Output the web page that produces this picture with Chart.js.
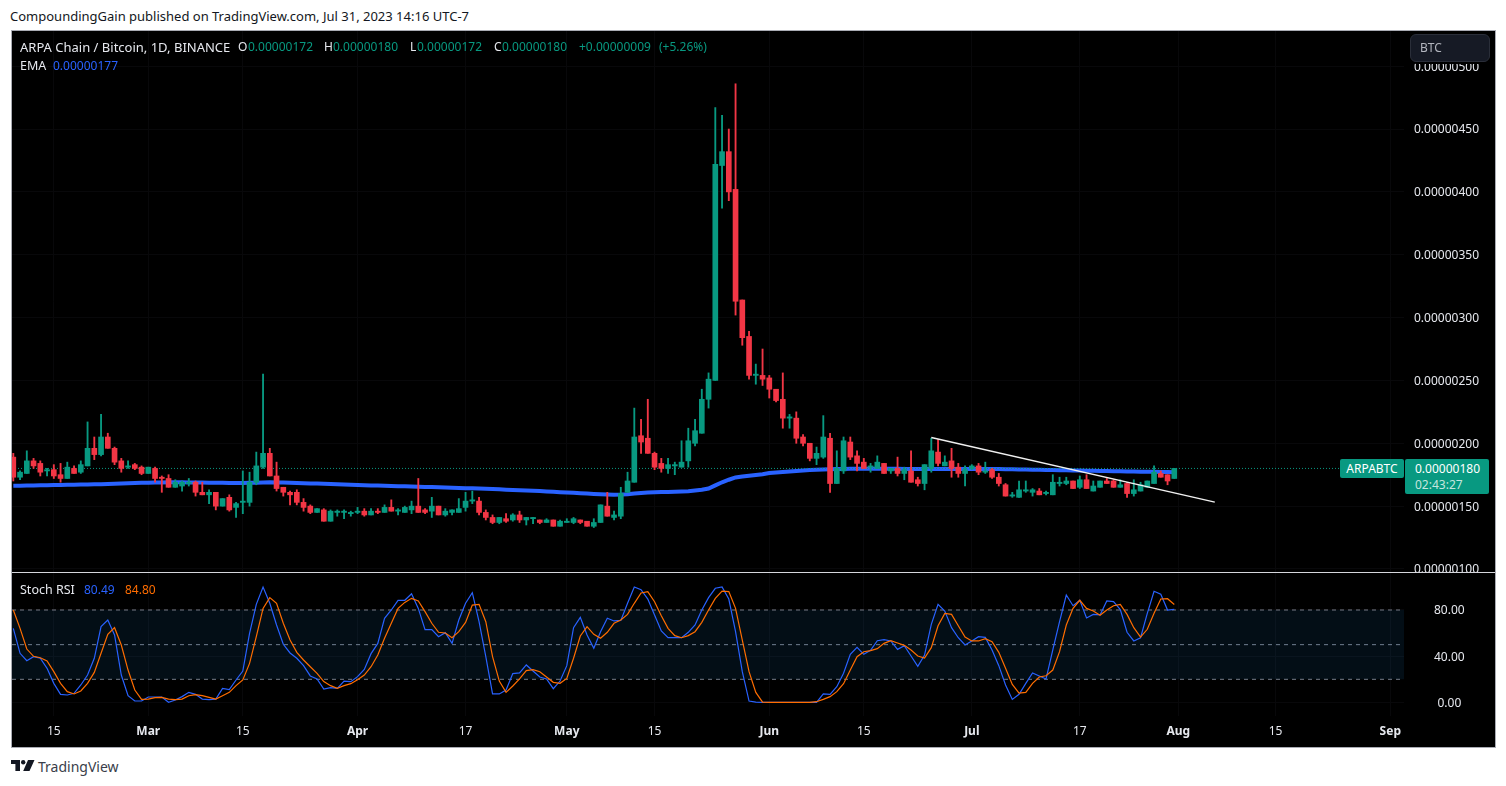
<!DOCTYPE html>
<html><head><meta charset="utf-8">
<script src="https://cdn.jsdelivr.net/npm/chart.js@4/dist/chart.umd.min.js"></script>
<style>
html,body{margin:0;padding:0;background:#fff;width:1506px;height:786px;overflow:hidden;font-family:"Noto Sans",sans-serif;}
.a{position:absolute;white-space:nowrap;line-height:16px;font-size:12px;}
.t{font-size:13px;}
#frame{position:absolute;left:11px;top:30px;width:1483px;height:716px;background:#000;border:1px solid #a9abb3;box-sizing:content-box;}
canvas{position:absolute;display:block;}
#div{position:absolute;left:12px;top:572px;width:1483px;height:1px;background:#d5d6dc;}
.w{color:#e6e8ee}.g{color:#089981}
</style></head><body>
<div id="frame"></div>
<canvas id="priceCanvas" width="1483" height="541" style="left:12px;top:31px"></canvas>
<div id="div"></div>
<canvas id="stochCanvas" width="1483" height="173" style="left:12px;top:573px"></canvas>

<div class="a t" style="left:10px;top:8px;color:#131722">CompoundingGain published on TradingView.com, Jul 31, 2023 14:16 UTC-7</div>

<div class="a w t" style="left:20px;top:39px">ARPA Chain / Bitcoin, 1D, BINANCE</div>
<div class="a w" style="left:238px;top:39px">O</div><div class="a g" style="left:248px;top:39px">0.00000172</div>
<div class="a w" style="left:324px;top:39px">H</div><div class="a g" style="left:333px;top:39px">0.00000180</div>
<div class="a w" style="left:410px;top:39px">L</div><div class="a g" style="left:417px;top:39px">0.00000172</div>
<div class="a w" style="left:494px;top:39px">C</div><div class="a g" style="left:502px;top:39px">0.00000180</div>
<div class="a g" style="left:579px;top:39px">+0.00000009</div>
<div class="a g" style="left:659px;top:39px">(+5.26%)</div>
<div class="a w" style="left:20px;top:58px;font-size:12.5px">EMA</div><div class="a" style="left:53px;top:58px;color:#2962ff">0.00000177</div>

<div class="a" style="left:1410px;top:34px;width:80px;height:28px;box-sizing:border-box;background:#161a25;border:1px solid #2a2e39;border-radius:6px;color:#b2b5be;padding-left:9px;line-height:26px;box-shadow:0 2px 0 #000">BTC</div>

<div class="a" style="left:1340px;top:459px;width:64px;height:19px;background:#089981;border-radius:2px;color:#fff;text-align:center;line-height:19px">ARPABTC</div>
<div class="a" style="left:1405px;top:459px;width:84px;height:35px;background:#089981;border-radius:2px;"></div>
<div class="a" style="left:1415px;top:461px;color:#fff">0.00000180</div>
<div class="a" style="left:1415px;top:477px;color:#c5e6df">02:43:27</div>

<div class="a w" style="left:20px;top:582px;font-size:12.5px">Stoch RSI</div>
<div class="a" style="left:84px;top:582px;color:#2962ff">80.49</div>
<div class="a" style="left:125px;top:582px;color:#ff6d00">84.80</div>

<svg class="a" style="left:11px;top:760px" width="24" height="12" viewBox="0 0 24 12">
<path d="M0 0H9V11H4.4V4H0Z M17 0H23.5L18.5 11H12.2Z" fill="#131722"/><circle cx="12.2" cy="2.2" r="2.2" fill="#131722"/></svg>
<div class="a" style="left:38px;top:758px;font-size:14px;line-height:18px;color:#3a3e4a">TradingView</div>

<script>
const opens=[189,173,176,186,184,178,179,175,172,180,
177,182,196,191,205,196,186,181,183,181,
176,180,173,172,165,166,168,169,161,159,
161,150,157,149,153,153,169,181,192,174,
165,161,161,153,150,145,147,138,145,145,
144,145,146,143,146,145,149,146,145,147,
150,147,146,150,143,145,145,149,154,154,
145,141,137,140,139,143,139,140,139,137,
139,134,137,137,139,138,134,137,150,141,
142,161,169,206,204,192,184,180,182,181,
186,200,208,235,250,421,432,402,314,285,
254,254,252,243,235,220,220,205,200,188,
189,204,168,178,201,190,185,181,180,184,
178,180,176,178,171,168,180,193,182,186,
181,176,180,182,177,179,173,167,158,157,
162,161,162,160,159,168,168,170,165,171,
162,165,170,170,165,168,160,162,165,168,
176,175,172];
const highs=[192,178,194,188,186,180,183,184,185,182,
186,217,205,223,208,197,188,186,184,182,
181,181,174,175,171,170,172,170,169,163,
161,156,159,153,178,177,193,255,196,185,
165,162,163,156,151,148,148,147,147,147,
146,149,148,148,148,151,155,148,150,154,
172,148,157,150,148,147,156,161,162,157,
147,143,141,144,144,146,141,141,139,140,
139,139,140,141,139,138,140,151,161,146,
165,177,228,219,235,193,188,188,185,202,
212,219,243,256,467,461,450,486,314,289,
263,275,254,243,256,223,225,207,200,197,
222,208,194,205,205,194,188,184,190,184,
180,189,181,194,173,183,204,203,190,196,
184,182,183,184,185,180,176,168,161,170,
170,164,164,162,175,173,173,170,174,175,
170,170,172,171,171,169,171,169,170,182,
178,175,180];
const lows=[170,171,176,180,174,174,172,169,172,176,
176,182,187,190,196,183,177,180,179,175,
176,169,161,165,165,162,166,158,159,152,
147,150,146,141,144,150,167,180,174,162,
158,151,151,146,144,145,138,138,142,140,
142,144,142,143,144,145,146,143,145,144,
145,144,141,143,142,143,145,146,152,143,
139,136,136,137,138,137,135,136,136,137,
134,134,137,136,136,134,133,137,142,139,
140,161,169,192,192,179,177,176,175,181,
181,198,208,228,250,387,393,302,278,251,
247,246,236,233,212,212,200,198,186,183,
188,161,168,176,187,178,180,177,180,176,
176,174,171,169,166,163,177,182,182,173,
173,166,179,175,176,172,166,158,157,157,
161,158,159,159,159,166,167,164,164,164,
162,165,168,165,165,157,158,162,165,168,
173,167,172];
const closes=[173,177,186,182,177,179,174,172,181,176,
183,196,191,205,196,185,180,182,180,176,
181,172,172,165,169,169,169,161,159,161,
150,156,147,152,154,169,182,192,174,164,
161,159,153,149,145,148,138,146,146,146,
145,146,143,146,145,149,146,147,149,150,
145,145,150,143,146,147,148,154,155,145,
141,137,141,138,143,139,141,141,137,139,
134,138,138,140,137,134,137,151,142,143,
160,170,205,201,192,181,180,183,183,185,
202,210,235,251,422,432,400,313,284,254,
255,251,243,234,220,221,204,200,188,192,
205,168,180,202,189,184,180,182,185,176,
180,176,179,169,168,183,194,184,185,180,
176,179,182,177,178,173,168,158,159,163,
163,163,159,161,169,169,170,164,171,164,
166,170,168,165,167,160,163,167,170,177,
173,170,180];
const ema=[166.2,166.3,166.4,166.5,166.6,166.7,166.8,166.9,167.0,167.1,167.2,167.3,167.4,
167.5,167.7,167.9,168.1,168.3,168.5,168.6,168.7,168.8,168.9,169.0,
169.0,169.0,168.9,168.9,168.8,168.7,168.7,168.6,168.5,168.5,
168.5,168.6,168.7,168.8,
169.0,168.9,168.8,168.6,168.4,168.3,168.1,168.0,167.8,167.6,167.4,167.2,167.0,
166.9,166.7,166.5,166.4,166.2,166.1,165.9,165.8,165.6,165.5,165.3,165.2,165.0,164.9,164.7,164.5,164.3,164.2,
164.0,163.8,163.6,163.4,163.1,162.9,162.7,162.4,162.2,162.0,161.7,161.4,161.1,160.9,160.6,160.3,160.0,159.7,159.4,159.2,
159.1,159.2,159.5,160.0,160.5,160.8,161.0,161.2,161.3,161.4,161.6,
161.9,162.4,163.0,164.0,166.5,169.0,171.0,172.8,173.6,174.2,174.8,175.3,176.3,176.8,177.2,177.6,178.0,178.4,178.7,179.0,179.2,
179.4,179.5,179.6,179.7,179.7,179.7,179.7,179.7,179.7,179.7,179.7,179.6,179.6,179.5,179.5,179.6,179.6,179.6,179.6,179.6,179.6,179.6,179.6,179.6,179.6,
179.5,179.4,179.3,179.2,179.1,179.0,178.9,178.8,178.7,178.6,178.5,178.4,178.3,178.2,178.1,178.0,177.9,177.8,177.7,177.6,177.5,177.4,177.3,177.3,177.2,177.1,177.0];
const stochK=[64.1,42.5,36.1,39.6,38.2,29.5,16.5,7.0,6.4,7.9,15.1,23.7,38.2,65.6,71.3,58.4,23.7,5.8,1.2,1.2,
4.7,4.7,4.7,0.1,2.1,5.0,8.7,7.0,2.9,2.4,2.9,12.2,11.0,19.4,27.2,59.8,84.9,99.9,85.8,67.0,
50.3,42.8,38.2,31.8,22.9,20.3,11.6,12.8,12.2,18.5,18.0,22.3,28.6,42.2,51.1,72.8,80.0,88.4,88.4,94.1,
81.4,63.0,63.0,56.9,60.4,51.1,71.3,85.8,95.0,69.9,39.6,7.3,7.3,10.7,24.9,25.5,32.4,27.2,22.0,20.3,
11.9,18.5,31.8,64.7,73.6,58.4,46.8,61.2,72.8,70.5,71.0,85.8,99.9,97.6,89.5,75.7,61.8,56.0,56.0,56.0,
60.7,67.0,80.0,90.7,98.8,99.9,89.5,61.2,26.6,1.2,0.3,0,0,0,0,0,0,0,0,0,
7.3,7.0,13.6,25.2,41.6,47.7,41.6,45.1,53.4,54.3,53.2,45.9,49.1,40.2,31.2,41.0,67.6,84.9,79.1,64.7,
56.0,49.7,53.2,56.9,56.3,45.4,31.8,15.1,2.6,7.0,16.5,25.5,22.9,20.3,45.4,69.9,93.0,83.7,88.4,73.1,
76.2,75.7,87.8,87.2,80.3,60.7,53.2,56.0,77.1,96.2,93.6,80.0,80.49];
const stochD=[80.0,64.1,46.2,39.9,38.7,35.8,26.6,16.5,9.3,7.3,9.9,16.5,26.0,42.5,58.9,64.7,49.7,28.0,10.7,2.6,
2.9,4.1,4.4,2.9,2.4,2.9,5.8,6.7,5.8,4.4,2.9,5.8,8.7,14.5,19.4,33.8,56.9,81.4,90.7,85.8,
68.5,54.0,43.3,36.7,30.9,25.2,18.0,14.5,12.2,14.5,16.2,19.7,23.7,30.9,41.0,55.5,68.5,81.4,86.6,90.1,
87.8,78.6,68.5,60.7,60.1,56.0,61.2,69.3,84.3,84.9,69.9,39.6,18.5,8.7,14.2,20.3,27.5,28.3,26.6,22.0,
17.4,16.5,20.8,38.2,57.5,65.6,58.9,55.5,60.7,68.5,71.3,76.2,85.8,94.7,95.9,87.2,75.1,64.1,57.8,56.0,
57.8,61.2,69.3,80.0,90.1,96.4,95.9,81.4,54.0,26.6,8.7,0.3,0,0,0,0,0,0,0,0.6,
2.6,5.0,9.3,16.2,28.0,39.6,43.9,44.8,46.5,51.1,53.4,51.4,49.4,45.4,40.2,38.4,47.4,66.4,77.1,76.2,
66.4,56.6,53.2,53.2,55.2,52.6,43.3,29.5,15.6,8.1,8.7,16.5,22.0,23.1,28.0,43.9,67.0,81.4,88.4,81.4,
79.1,75.4,80.0,83.7,84.9,76.2,64.7,56.6,63.3,77.1,89.5,89.8,84.80];
const priceTicks=[100,150,200,250,300,350,400,450,500];
const stochTicks=[0,40,80];
const stochLevels=[20,50,80];
const lastPrice=180;
const dateTickBars=[6,20,34,51,67,82,95,112,126,142,158,172.6,187,204];
const dateTickLabels=["15","Mar","15","Apr","17","May","15","Jun","15","Jul","17","Aug","15","Sep"];
const trendBars=[136,178];
const trendValues=[204.6,153.1];

const bars=opens.map((_,i)=>i);
const GREEN="#089981",RED="#f23645";
const colors=opens.map((o,i)=>closes[i]>=o?GREEN:RED);
const XMIN=-0.193,XMAX=206.03;
const font={family:'"Noto Sans",sans-serif',size:12};
const noMargins=s=>{s._margins={left:0,right:0,top:0,bottom:0};s.paddingLeft=s.paddingRight=s.paddingTop=s.paddingBottom=0;};
const fitW=s=>{s.width=91;noMargins(s);};
const gridC="#08080a";

new Chart(document.getElementById("priceCanvas"),{
 type:"bar",
 data:{datasets:[
  {type:"line",data:trendBars.map((x,i)=>({x,y:trendValues[i]})),borderColor:"#f0f0f0",borderWidth:1.3,pointRadius:0,order:0},
  {type:"bar",data:bars.map(i=>({x:i,y:[opens[i],closes[i]]})),backgroundColor:colors,barThickness:5,grouped:false,order:1},
  {type:"bar",data:bars.map(i=>({x:i,y:[lows[i],highs[i]]})),backgroundColor:colors,barThickness:1.2,grouped:false,order:2},
  {type:"line",data:[{x:XMIN,y:lastPrice},{x:XMAX,y:lastPrice}],borderColor:GREEN,borderWidth:1,borderDash:[1,2],pointRadius:0,order:3},
  {type:"line",data:bars.map(i=>({x:i,y:ema[i]})),borderColor:"#2962ff",borderWidth:4,pointRadius:0,tension:0,order:4}
 ]},
 options:{
  responsive:false,animation:false,devicePixelRatio:1,events:[],
  layout:{padding:0,autoPadding:false},
  plugins:{legend:{display:false},tooltip:{enabled:false}},
  scales:{
   x:{type:"linear",min:XMIN,max:XMAX,offset:false,display:true,
      afterBuildTicks:s=>{s.ticks=dateTickBars.map(v=>({value:v}));},
      afterFit:s=>{s.height=0;noMargins(s);},
      ticks:{display:false},border:{display:false},
      grid:{color:gridC,offset:false,drawTicks:false}},
   y:{position:"right",min:97.6,max:528,
      afterFit:fitW,
      afterBuildTicks:s=>{s.ticks=priceTicks.map(v=>({value:v}));},
      border:{display:false},
      grid:{color:gridC,drawTicks:false},
      ticks:{color:"#e6e8ee",font,padding:10,crossAlign:"near",labelOffset:1,
        callback:v=>(v*1e-8).toFixed(8)}}
  }
 }
});

const lvl=(v,extra)=>Object.assign({type:"line",data:[{x:XMIN,y:v},{x:XMAX,y:v}],borderColor:"#787b86",borderWidth:1,borderDash:[4,4],pointRadius:0,order:5},extra||{});
new Chart(document.getElementById("stochCanvas"),{
 type:"line",
 data:{datasets:[
  {data:bars.map(i=>({x:i,y:stochD[i]})),borderColor:"#ff6d00",borderWidth:1.2,pointRadius:0,tension:0,order:0},
  {data:bars.map(i=>({x:i,y:stochK[i]})),borderColor:"#2962ff",borderWidth:1.2,pointRadius:0,tension:0,order:1},
  lvl(stochLevels[2],{fill:{value:stochLevels[0]},backgroundColor:"rgba(33,150,243,0.09)"}),
  lvl(stochLevels[1]),
  lvl(stochLevels[0])
 ]},
 options:{
  responsive:false,animation:false,devicePixelRatio:1,events:[],
  layout:{padding:0,autoPadding:false},
  plugins:{legend:{display:false},tooltip:{enabled:false},filler:{propagate:false}},
  scales:{
   x:{type:"linear",min:XMIN,max:XMAX,
      afterBuildTicks:s=>{s.ticks=dateTickBars.map(v=>({value:v}));},
      afterFit:s=>{s.height=30;noMargins(s);},
      border:{display:false},
      grid:{color:gridC,drawTicks:false},
      ticks:{color:"#e6e8ee",autoSkip:false,maxRotation:0,minRotation:0,padding:8,
        font:c=>{const l=dateTickLabels[c.index];return {family:font.family,size:12,weight:/^[A-Z]/.test(l||"")?"bold":"normal"};},
        callback:(v,i)=>dateTickLabels[i]}},
   y:{position:"right",min:-11.77,max:112.03,
      afterFit:fitW,
      afterBuildTicks:s=>{s.ticks=stochTicks.map(v=>({value:v}));},
      border:{display:false},
      grid:{color:gridC,drawTicks:false},
      ticks:{color:"#e6e8ee",font,padding:30,crossAlign:"center",labelOffset:1,callback:v=>v.toFixed(2)}}
  }
 }
});
</script>
</body></html>
